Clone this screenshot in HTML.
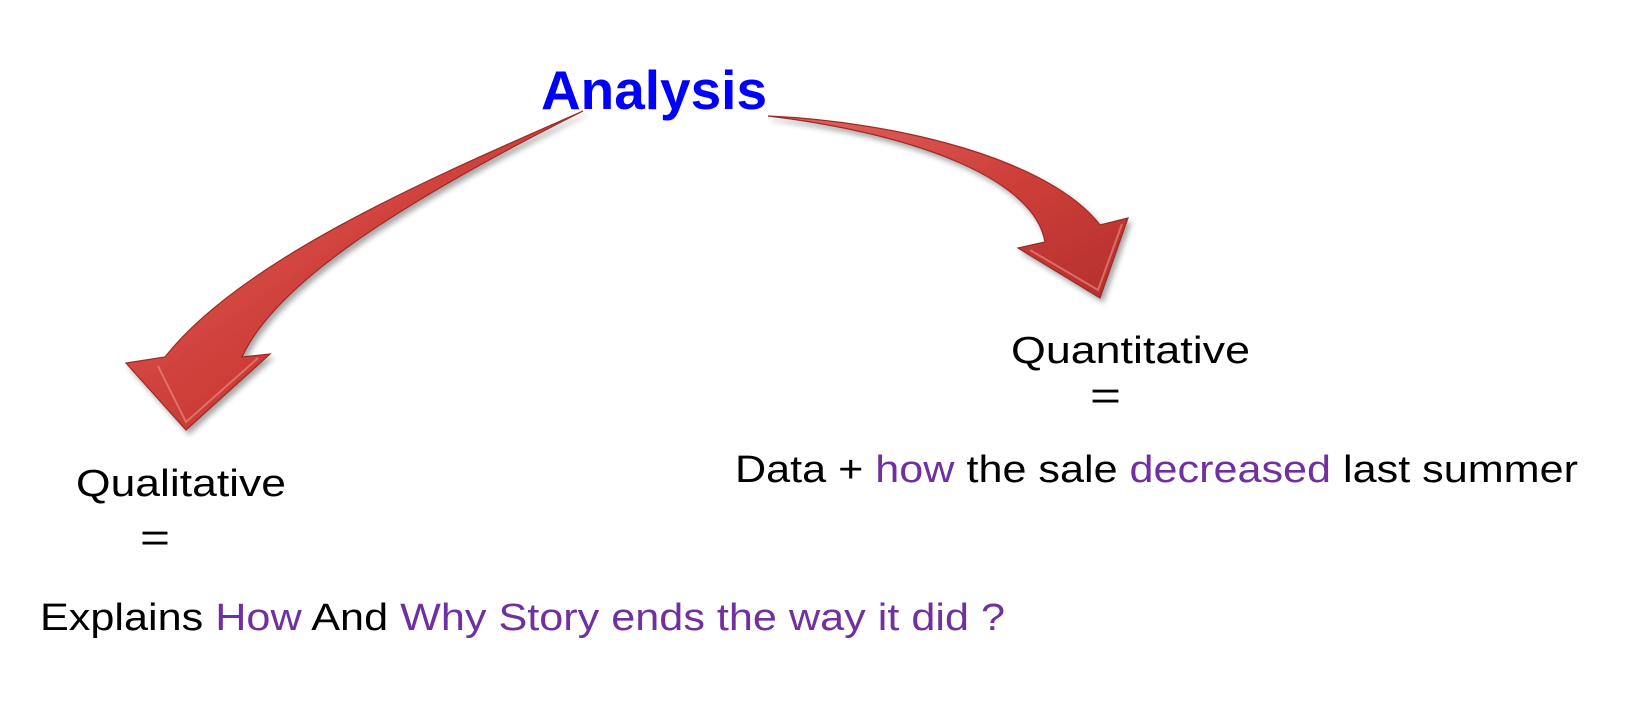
<!DOCTYPE html>
<html><head><meta charset="utf-8"><style>
html,body{margin:0;padding:0;background:#fff;}
svg{display:block;}
text{font-family:"Liberation Sans",sans-serif;}
</style></head><body>
<svg width="1639" height="704" viewBox="0 0 1639 704" xmlns="http://www.w3.org/2000/svg">
<defs>
<linearGradient id="g1" x1="0" y1="0" x2="1" y2="1">
<stop offset="0" stop-color="#e06560"/><stop offset="0.5" stop-color="#cf3f3a"/><stop offset="1" stop-color="#b3302d"/>
</linearGradient>
<filter id="sh" x="-20%" y="-20%" width="140%" height="140%">
<feGaussianBlur in="SourceAlpha" stdDeviation="3"/><feOffset dx="3" dy="4"/>
<feComponentTransfer><feFuncA type="linear" slope="0.35"/></feComponentTransfer>
<feMerge><feMergeNode/><feMergeNode in="SourceGraphic"/></feMerge>
</filter>
</defs>
<path filter="url(#sh)" fill="url(#g1)" stroke="#9a2a28" stroke-width="1.2"
 d="M583,111 C450,170 245,255 165,357 L126,363 L186,430 L270,354 L242,357 C275,285 395,205 583,111 Z"/>
<path fill="none" stroke="#e98580" stroke-width="2" opacity="0.7" d="M158,366 L186,422 L258,358"/>
<path filter="url(#sh)" fill="url(#g1)" stroke="#9a2a28" stroke-width="1.2"
 d="M768,116 C900,122 1050,160 1100,225 L1128,218 L1100,298 L1018,248 L1045,242 C1035,182 925,135 768,116 Z"/>
<path fill="none" stroke="#e98580" stroke-width="2" opacity="0.7" d="M1030,250 L1098,290 L1122,224"/>

<text x="541" y="109" font-size="55" font-weight="bold" fill="#0000ff" textLength="226" lengthAdjust="spacingAndGlyphs">Analysis</text>

<text x="1011" y="363" font-size="38" fill="#000" textLength="239" lengthAdjust="spacingAndGlyphs">Quantitative</text>
<text x="1090" y="409" font-size="40" fill="#000" textLength="31" lengthAdjust="spacingAndGlyphs">=</text>
<text x="735" y="482" font-size="38" fill="#000" textLength="843" lengthAdjust="spacingAndGlyphs">Data + <tspan fill="#7030a0">how</tspan> the sale <tspan fill="#7030a0">decreased</tspan> last summer</text>

<text x="76" y="496" font-size="38" fill="#000" textLength="210" lengthAdjust="spacingAndGlyphs">Qualitative</text>
<text x="140" y="551" font-size="40" fill="#000" textLength="30" lengthAdjust="spacingAndGlyphs">=</text>
<text x="40" y="630" font-size="38" fill="#000" textLength="965" lengthAdjust="spacingAndGlyphs">Explains <tspan fill="#7030a0">How</tspan> And <tspan fill="#7030a0">Why Story ends the way it did ?</tspan></text>
</svg>
</body></html>
